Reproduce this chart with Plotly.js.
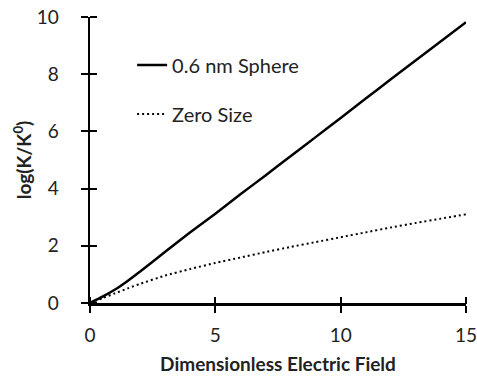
<!DOCTYPE html>
<html>
<head>
<meta charset="utf-8">
<script src="https://cdn.plot.ly/plotly-3.0.1.min.js"></script>
<style>html,body{margin:0;padding:0;background:#fff;}#chart{width:477px;height:376px;}</style>
</head>
<body>
<div id="chart"></div>
<script>
const fieldX = [0, 0.5, 1, 1.5, 2, 3, 4, 5, 6, 7, 8, 9, 10, 11, 12, 13, 14, 15];
const sphereY = [0, 0.22, 0.47, 0.77, 1.10, 1.79, 2.47, 3.12, 3.80, 4.46, 5.13, 5.80, 6.47, 7.15, 7.82, 8.49, 9.15, 9.82];
const zeroY = [0, 0.17, 0.34, 0.51, 0.67, 0.96, 1.19, 1.40, 1.59, 1.78, 1.96, 2.13, 2.30, 2.47, 2.64, 2.80, 2.95, 3.10];
const seriesNames = ["0.6 nm Sphere", "Zero Size"];
const xTicks = [0, 5, 10, 15];
const yTicks = [0, 2, 4, 6, 8, 10];

const font = "Lato, 'Open Sans', sans-serif";
const txt = "#222";

const traces = [
  {x: fieldX, y: sphereY, name: seriesNames[0], mode: "lines", legendgroup: "a",
   line: {color: "#000", width: 2.5, shape: "spline", smoothing: 0.6}},
  {x: fieldX, y: zeroY, name: seriesNames[1], mode: "lines", legendgroup: "b",
   line: {color: "#000", width: 2, dash: "2px,3px", shape: "spline", smoothing: 0.6}},
  {x: [0, 15], y: [0, 10], xaxis: "x2", yaxis: "y2", mode: "markers", marker: {opacity: 0}, showlegend: false, hoverinfo: "skip"}
];

const axisCommon = {
  showgrid: false, zeroline: false, showline: true, linecolor: "#000", linewidth: 2.5,
  ticks: "outside", ticklen: 7, tickwidth: 2, tickcolor: "#000",
  tickfont: {family: font, size: 19, color: txt}, ticklabeloverflow: "allow"
};

const layout = {
  width: 477, height: 376,
  margin: {l: 90, r: 11, t: 17, b: 73},
  paper_bgcolor: "#fff", plot_bgcolor: "#fff",
  showlegend: true,
  legend: {x: 0.112, y: 0.9, xanchor: "left", yanchor: "top", bgcolor: "rgba(0,0,0,0)",
           font: {family: font, size: 20, color: txt}, tracegroupgap: 20, itemwidth: 30},
  xaxis: Object.assign({}, axisCommon, {
    range: [0, 15], tickvals: xTicks, ticktext: xTicks.map(String), ticklabelstandoff: 7,
    automargin: false,
    title: {text: "Dimensionless Electric Field", font: {family: font, size: 19, color: txt, weight: "bold"}, standoff: 13}
  }),
  yaxis: Object.assign({}, axisCommon, {
    range: [0, 10], tickvals: yTicks, ticktext: yTicks.map(String), ticklabelstandoff: 18,
    automargin: false,
    title: {text: "<b>log(K/K<sup>0</sup>)</b>", font: {family: font, size: 19, color: txt}, standoff: 0}
  }),
  xaxis2: {overlaying: "x", range: [0, 15], tickmode: "array", tickvals: xTicks, showticklabels: false, ticks: "outside",
           ticklen: 7, tickwidth: 2, tickcolor: "#000", showgrid: false, zeroline: false, showline: false,
           anchor: "free", position: 0.0245, side: "bottom", automargin: false},
  yaxis2: {overlaying: "y", range: [0, 10], tickmode: "array", tickvals: yTicks, showticklabels: false, ticks: "outside",
           ticklen: 7, tickwidth: 2, tickcolor: "#000", showgrid: false, zeroline: false, showline: false,
           anchor: "free", position: 0.0186, side: "left", automargin: false}
};

Plotly.newPlot("chart", traces, layout, {displayModeBar: false, staticPlot: true});
</script>
</body>
</html>
